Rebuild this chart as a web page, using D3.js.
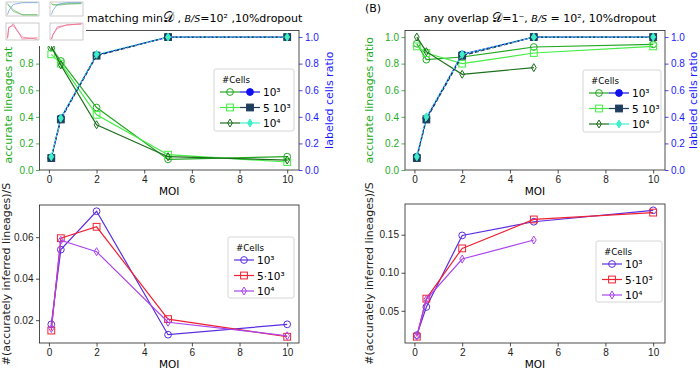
<!DOCTYPE html>
<html>
<head>
<meta charset="utf-8">
<script src="https://cdn.jsdelivr.net/npm/d3@7"></script>
<style>
body { margin: 0; background: #fff; }
svg { font-family: "DejaVu Sans", sans-serif; }
</style>
</head>
<body>
<div id="chart"></div>
<script>
// MOI values (x axis)
var moi = [0.1, 0.5, 2, 5, 10];
var xTicks = [0, 2, 4, 6, 8, 10];

// panel A top: accurate lineages ratio (matching min D)
var accA_1e3 = [0.92, 0.82, 0.47, 0.08, 0.10];
var accA_5e3 = [0.87, 0.80, 0.415, 0.115, 0.06];
var accA_1e4 = [0.93, 0.79, 0.34, 0.10, 0.075];
// panel A top: labeled cells ratio
var labA_1e3 = [0.09, 0.39, 0.865, 1.0, 1.0];
var labA_5e3 = [0.09, 0.38, 0.86, 1.0, 1.0];
var labA_1e4 = [0.10, 0.39, 0.87, 1.0, 1.0];

// panel B top: accurate lineages ratio (any overlap)
var accB_1e3 = [0.95, 0.83, 0.85, 0.925, 0.945];
var accB_5e3 = [0.93, 0.88, 0.80, 0.88, 0.93];
var accB_1e4 = [1.0, 0.89, 0.72, 0.77];
var labB_1e3 = [0.10, 0.39, 0.87, 1.0, 1.0];
var labB_5e3 = [0.09, 0.38, 0.86, 1.0, 1.0];
var labB_1e4 = [0.10, 0.40, 0.87, 1.0, 1.0];

// bottom panels: #(accurately inferred lineages)/S
var cntA_1e3 = [0.018, 0.054, 0.0725, 0.013, 0.018];
var cntA_5e3 = [0.015, 0.0595, 0.065, 0.0205, 0.012];
var cntA_1e4 = [0.016, 0.0585, 0.053, 0.019, 0.0125];
var cntB_1e3 = [0.018, 0.055, 0.149, 0.167, 0.182];
var cntB_5e3 = [0.016, 0.066, 0.132, 0.170, 0.179];
var cntB_1e4 = [0.017, 0.065, 0.118, 0.143];

var cellLabelsTop = ["10³", "5  10³", "10⁴"];
var cellLabelsBottom = ["10³", "5·10³", "10⁴"];

var green1 = "#22a822", green2 = "#44ee44", green3 = "#1b6e1b";
var blue1 = "#1010ee", blue2 = "#1f3d5c", blue3 = "#3ef0c8";
var vio1 = "#5a2ee0", red1 = "#ee2233", vio3 = "#aa44ee";
var tickGreen = "#22aa22", tickBlue = "#1a1aff";

var width = 700, height = 370;

var svg = d3.select("#chart")
    .append("svg")
    .attr("width", width)
    .attr("height", height);

function marker(g, shape, cx, cy, color, filled, s) {
    s = s || 1;
    var fill = filled ? color : "none";
    if (shape == "circle") {
        g.append("circle").attr("cx", cx).attr("cy", cy).attr("r", 3.4 * s)
            .attr("fill", fill).attr("stroke", color).attr("stroke-width", 1 * s);
    } else if (shape == "square") {
        g.append("rect").attr("x", cx - 3.4 * s).attr("y", cy - 3.4 * s)
            .attr("width", 6.8 * s).attr("height", 6.8 * s)
            .attr("fill", fill).attr("stroke", color).attr("stroke-width", 1 * s);
    } else {
        g.append("path")
            .attr("d", "M" + cx + "," + (cy - 4 * s) + "L" + (cx + 2.4 * s) + "," + cy +
                "L" + cx + "," + (cy + 4 * s) + "L" + (cx - 2.4 * s) + "," + cy + "Z")
            .attr("fill", fill).attr("stroke", color).attr("stroke-width", 1 * s);
    }
}

function drawSeries(g, x, y, s) {
    var line = d3.line()
        .x(function(d, i) { return x(moi[i]); })
        .y(function(d) { return y(d); });
    g.append("path")
        .attr("d", line(s.data))
        .attr("fill", "none")
        .attr("stroke", s.color)
        .attr("stroke-width", 1.2)
        .attr("stroke-dasharray", s.dash || null);
    s.data.forEach(function(d, i) {
        marker(g, s.shape, x(moi[i]), y(d), s.color, s.filled);
    });
}

function styleAxis(g, color) {
    g.select(".domain").remove();
    g.selectAll(".tick line").attr("stroke", color).attr("stroke-width", 0.8);
    g.selectAll(".tick text").attr("fill", color).style("font-size", "10px");
}

function legend(lx, ly, w, h, labels, pairs) {
    var lg = svg.append("g").attr("transform", "translate(" + lx + "," + ly + ")");
    lg.append("rect").attr("width", w).attr("height", h).attr("rx", 2)
        .attr("fill", "white").attr("fill-opacity", 0.85)
        .attr("stroke", "#cccccc").attr("stroke-width", 0.8);
    lg.append("text").attr("x", 8).attr("y", 14).style("font-size", "8.7px").text("#Cells");
    labels.forEach(function(lab, i) {
        var yy = 23 + i * 15.5;
        var xx = 6;
        pairs[i].forEach(function(s) {
            lg.append("line").attr("x1", xx).attr("x2", xx + 20).attr("y1", yy).attr("y2", yy)
                .attr("stroke", s.color).attr("stroke-width", 1.2);
            marker(lg, s.shape, xx + 10, yy, s.color, s.filled);
            xx += 20;
        });
        lg.append("text").attr("x", xx + 3).attr("y", yy + 4)
            .style("font-size", "10.5px").text(lab);
    });
}

function panel(cfg) {
    var x = d3.scaleLinear().domain([-0.395, 10.495]).range([cfg.left, cfg.right]);
    var y = d3.scaleLinear().domain(cfg.yDomain).range([cfg.bottom, cfg.top]);
    var g = svg.append("g");

    var ax = g.append("g").attr("transform", "translate(0," + cfg.bottom + ")")
        .call(d3.axisBottom(x).tickValues(xTicks).tickSize(3.5).tickPadding(2));
    styleAxis(ax, "#222");

    var ay = g.append("g").attr("transform", "translate(" + cfg.left + ",0)")
        .call(d3.axisLeft(y).tickValues(cfg.yTicks).tickFormat(d3.format(cfg.fmt))
            .tickSize(3.5).tickPadding(2.5));
    styleAxis(ay, cfg.yColor);

    var y2 = null;
    if (cfg.y2) {
        y2 = d3.scaleLinear().domain(cfg.yDomain).range([cfg.bottom, cfg.top]);
        var ar = g.append("g").attr("transform", "translate(" + cfg.right + ",0)")
            .call(d3.axisRight(y2).tickValues(cfg.yTicks).tickFormat(d3.format(".1f"))
                .tickSize(3.5).tickPadding(2.5));
        styleAxis(ar, tickBlue);
    }

    cfg.series.forEach(function(s) { drawSeries(g, x, y, s); });
    if (cfg.series2) cfg.series2.forEach(function(s) { drawSeries(g, x, y2, s); });

    g.append("rect")
        .attr("x", cfg.left).attr("y", cfg.top)
        .attr("width", cfg.right - cfg.left).attr("height", cfg.bottom - cfg.top)
        .attr("fill", "none").attr("stroke", "#222").attr("stroke-width", 0.8);

    g.append("text")
        .attr("x", (cfg.left + cfg.right) / 2).attr("y", cfg.bottom + 25)
        .attr("text-anchor", "middle").style("font-size", "10.5px").text("MOI");

    g.append("text")
        .attr("transform", "translate(" + cfg.yLabelX + "," + (cfg.top + cfg.bottom) / 2 + ") rotate(-90)")
        .attr("text-anchor", "middle").attr("fill", cfg.yColor)
        .style("font-size", cfg.yLabelSize).text(cfg.yLabel);

    if (cfg.y2) {
        g.append("text")
            .attr("transform", "translate(" + cfg.y2LabelX + "," + (cfg.top + cfg.bottom) / 2 + ") rotate(-90)")
            .attr("text-anchor", "middle").attr("fill", tickBlue)
            .style("font-size", "11px").text("labeled cells ratio");
    }
    return { x: x, y: y };
}

var topYTicks = [0, 0.2, 0.4, 0.6, 0.8, 1.0];

function greenSeries(a, b, c) {
    return [
        { data: a, color: green1, shape: "circle" },
        { data: b, color: green2, shape: "square" },
        { data: c, color: green3, shape: "diamond" }
    ];
}
function blueSeries(a, b, c) {
    return [
        { data: a, color: blue1, shape: "circle", filled: true },
        { data: b, color: blue2, shape: "square", filled: true, dash: "4,2" },
        { data: c, color: blue3, shape: "diamond", filled: true, dash: "2,2" }
    ];
}
function pinkSeries(a, b, c) {
    return [
        { data: a, color: vio1, shape: "circle" },
        { data: b, color: red1, shape: "square" },
        { data: c, color: vio3, shape: "diamond" }
    ];
}

// top left
var gA = greenSeries(accA_1e3, accA_5e3, accA_1e4);
var bA = blueSeries(labA_1e3, labA_5e3, labA_1e4);
panel({
    left: 39.5, right: 299, top: 30.4, bottom: 170,
    yDomain: [0, 1.05], yTicks: topYTicks, fmt: ".1f", yColor: tickGreen,
    y2: true, series: gA, series2: bA,
    yLabel: "accurate lineages ratio", yLabelX: 12, yLabelSize: "11px", y2LabelX: 333
});
legend(214, 69, 80, 62, cellLabelsTop, [[gA[0], bA[0]], [gA[1], bA[1]], [gA[2], bA[2]]]);

// top right
var gB = greenSeries(accB_1e3, accB_5e3, accB_1e4);
var bB = blueSeries(labB_1e3, labB_5e3, labB_1e4);
panel({
    left: 405, right: 665, top: 30.4, bottom: 170,
    yDomain: [0, 1.05], yTicks: topYTicks, fmt: ".1f", yColor: tickGreen,
    y2: true, series: gB, series2: bB,
    yLabel: "accurate lineages ratio", yLabelX: 373, yLabelSize: "11px", y2LabelX: 697
});
legend(583, 70, 78, 62, cellLabelsTop, [[gB[0], bB[0]], [gB[1], bB[1]], [gB[2], bB[2]]]);

// bottom left
var pA = pinkSeries(cntA_1e3, cntA_5e3, cntA_1e4);
panel({
    left: 39.5, right: 299, top: 205, bottom: 343,
    yDomain: [0.009, 0.0755], yTicks: [0.02, 0.04, 0.06], fmt: ".2f", yColor: "#222",
    series: pA,
    yLabel: "#(accurately inferred lineages)/S", yLabelX: 10, yLabelSize: "11px"
});
legend(228, 237, 66, 61, cellLabelsBottom, [[pA[0]], [pA[1]], [pA[2]]]);

// bottom right
var pB = pinkSeries(cntB_1e3, cntB_5e3, cntB_1e4);
panel({
    left: 405, right: 665, top: 204, bottom: 343,
    yDomain: [0.0077, 0.1903], yTicks: [0.05, 0.10, 0.15], fmt: ".2f", yColor: "#222",
    series: pB,
    yLabel: "#(accurately inferred lineages)/S", yLabelX: 373, yLabelSize: "11px"
});
legend(596, 241, 66, 61, cellLabelsBottom, [[pB[0]], [pB[1]], [pB[2]]]);

// titles
var t1 = svg.append("text").attr("x", 87).attr("y", 22).style("font-size", "11px");
t1.append("tspan").text("matching min");
t1.append("tspan").style("font-size", "13.5px").text("𝒟");
t1.append("tspan").text(" , ");
t1.append("tspan").style("font-style", "italic").style("font-size", "9.5px").text("B/S");
t1.append("tspan").text("=10² ,10%dropout");

svg.append("text").attr("x", 365).attr("y", 12).style("font-size", "11px").text("(B)");
var t2 = svg.append("text").attr("x", 540).attr("y", 22).attr("text-anchor", "middle")
    .style("font-size", "11px");
t2.append("tspan").text("any   overlap  ");
t2.append("tspan").style("font-size", "12.5px").text("𝒟");
t2.append("tspan").text("=1⁻, ");
t2.append("tspan").style("font-style", "italic").style("font-size", "9.5px").text("B/S");
t2.append("tspan").text(" = 10², 10%dropout");

// small thumbnail overlay in the top-left corner
var thumb = svg.append("g");
thumb.append("rect").attr("x", 0).attr("y", 0).attr("width", 86).attr("height", 46).attr("fill", "white");
var thumbs = [
    { x: 2, y: 1, w: 38, h: 18, lines: [accA_1e3, accA_1e4], col: "#66bb66", lines2: [labA_1e3], col2: "#6699dd", dom: [0, 1.05] },
    { x: 46, y: 1, w: 38, h: 18, lines: [accB_1e3, accB_5e3], col: "#66bb66", lines2: [labB_1e3], col2: "#6699dd", dom: [0, 1.05] },
    { x: 2, y: 22, w: 38, h: 21, lines: [cntA_1e3, cntA_5e3], col: "#ee6688", lines2: [], dom: [0.009, 0.0755] },
    { x: 46, y: 22, w: 38, h: 21, lines: [cntB_1e3, cntB_5e3], col: "#ee6688", lines2: [], dom: [0.0077, 0.1903] }
];
thumbs.forEach(function(t) {
    var tx = d3.scaleLinear().domain([-0.4, 10.5]).range([t.x + 4, t.x + t.w - 1]);
    var ty = d3.scaleLinear().domain(t.dom).range([t.y + t.h - 3, t.y + 1]);
    thumb.append("rect").attr("x", t.x + 4).attr("y", t.y + 1).attr("width", t.w - 5).attr("height", t.h - 4)
        .attr("fill", "none").attr("stroke", "#999").attr("stroke-width", 0.5);
    var ln = d3.line().x(function(d, i) { return tx(moi[i]); }).y(function(d) { return ty(d); });
    t.lines.forEach(function(d) {
        thumb.append("path").attr("d", ln(d)).attr("fill", "none").attr("stroke", t.col).attr("stroke-width", 0.7);
    });
    t.lines2.forEach(function(d) {
        thumb.append("path").attr("d", ln(d)).attr("fill", "none").attr("stroke", t.col2).attr("stroke-width", 0.7);
    });
});
</script>
</body>
</html>
